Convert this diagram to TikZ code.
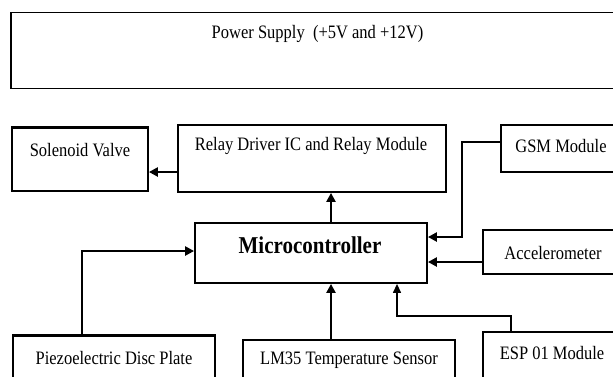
\documentclass[tikz,border=0pt]{standalone}
\usepackage{fontspec}
\setmainfont{Liberation Serif}
\usetikzlibrary{arrows.meta}
\newcommand{\stx}[1]{\scalebox{1}[1.15]{#1}}
\tikzset{
  box/.style={draw, line width=1.8pt, rectangle, inner sep=0pt},
  lbl/.style={inner sep=0pt, font=\fontsize{16.5}{18}\selectfont},
  conn/.style={line width=2.3pt, -{Triangle[length=9pt,width=9pt]}},
  thin conn/.style={line width=1.3pt, -{Triangle[length=9pt,width=8pt]}},
}
\begin{document}
\begin{tikzpicture}[x=1pt,y=-1pt]
\useasboundingbox (0,0) rectangle (613,376);
\clip (0,0) rectangle (613,376);
% boxes
\node[box, minimum width=609, minimum height=76] (ps) at (315.5,50.5) {};
\node[lbl] (pst) at (317.5,34) {\stx{Power Supply\ \ (+5V and +12V)}};

\node[box, minimum width=136, minimum height=63] (sol) at (80,159.5) {};
\node[lbl] (solt) at (80,150) {\stx{Solenoid Valve}};

\node[box, minimum width=268, minimum height=67] (relay) at (312,158.5) {};
\node[lbl] (relayt) at (311,146) {\stx{Relay Driver IC and Relay Module}};

\node[box, minimum width=120, minimum height=47] (gsm) at (561,148.5) {};
\node[lbl] (gsmt) at (561,146) {\stx{GSM Module}};

\node[box, minimum width=232, minimum height=60] (mc) at (311,253) {};
\node[lbl, font=\bfseries\fontsize{21}{23}\selectfont] (mct) at (310,245) {\stx{Microcontroller}};

\node[box, minimum width=138, minimum height=44] (acc) at (552,252) {};
\node[lbl] (acct) at (553,253) {\stx{Accelerometer}};

\node[box, minimum width=202, minimum height=60] (pz) at (114,366) {};
\node[lbl] (pzt) at (114,358) {\stx{Piezoelectric Disc Plate}};

\node[box, minimum width=212, minimum height=56] (lm) at (349,368) {};
\node[lbl] (lmt) at (349,360) {\stx{LM35 Temperature Sensor}};

\node[box, minimum width=138, minimum height=62] (esp) at (552,363) {};
\node[lbl] (espt) at (552,353) {\stx{ESP 01 Module}};

% thicker top edges
\draw[line width=3pt] (sol.north west) -- (sol.north east);
\draw[line width=2.6pt] (pz.north west) -- (pz.north east);

% coordinates
\coordinate (xa) at (331,0);
\coordinate (ya) at (0,172);
\coordinate (yg) at (0,142);
\coordinate (yg2) at (0,237);
\coordinate (ye) at (0,262);
\coordinate (yp) at (0,251);
\coordinate (gx) at (462,0);
\coordinate (px) at (82,0);
\coordinate (ex) at (511,0);
\coordinate (ex2) at (397,0);
\coordinate (ey) at (0,316);

% connectors
\draw[conn] (relay.west |- ya) -- (sol.east |- ya);
\draw[conn] (mc.north -| xa) -- (relay.south -| xa);
\draw[conn] (gsm.west |- yg) -| (gx |- yg2) -- (mc.east |- yg2);
\draw[conn] (acc.west |- ye) -- (mc.east |- ye);
\draw[conn] (pz.north -| px) |- (mc.west |- yp);
\draw[conn] (lm.north -| xa) -- (mc.south -| xa);
\draw[thin conn] (esp.north -| ex) |- (ex2 |- ey) -- (mc.south -| ex2);
\end{tikzpicture}
\end{document}
